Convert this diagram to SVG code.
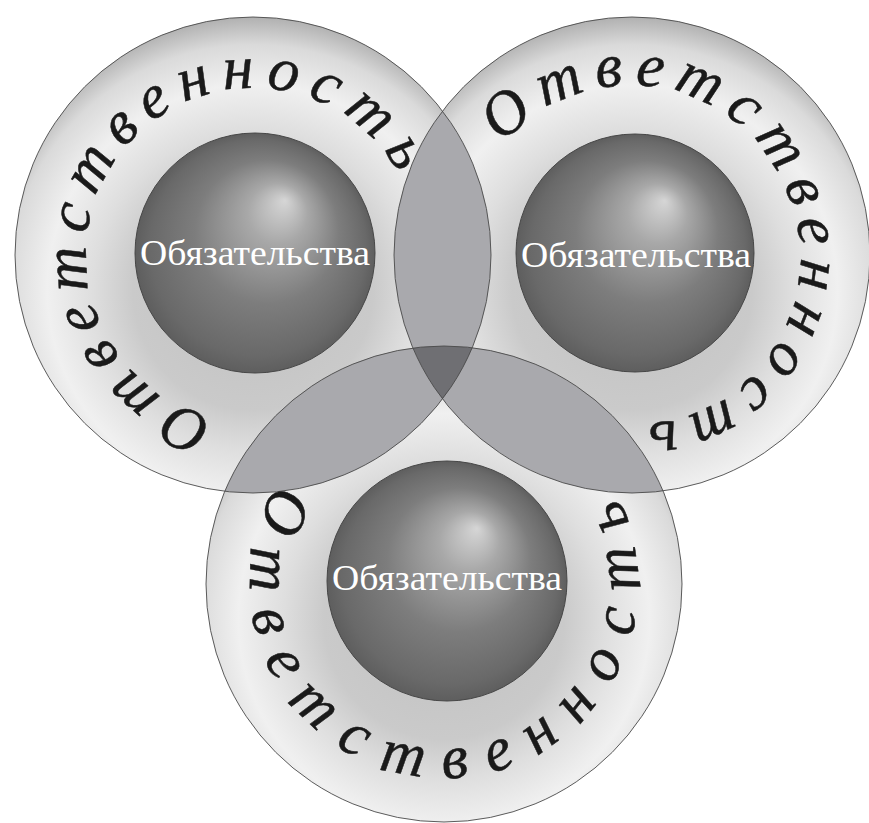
<svg xmlns="http://www.w3.org/2000/svg" xmlns:xlink="http://www.w3.org/1999/xlink" width="869" height="823" viewBox="0 0 869 823">
  <defs>
    <radialGradient id="ringGrad" cx="0.5" cy="0.574" r="0.6" fx="0.5" fy="0.574">
      <stop offset="0" stop-color="#c0c0c0"/>
      <stop offset="0.42" stop-color="#cacaca"/>
      <stop offset="0.56" stop-color="#dedede"/>
      <stop offset="0.72" stop-color="#f0f0f0"/>
      <stop offset="0.86" stop-color="#dadada"/>
      <stop offset="1" stop-color="#9e9e9e"/>
    </radialGradient>
    <radialGradient id="sphereGrad" cx="0.5" cy="0.5" r="0.5" fx="0.625" fy="0.28">
      <stop offset="0" stop-color="#d6d6d6"/>
      <stop offset="0.25" stop-color="#a8a8a8"/>
      <stop offset="0.6" stop-color="#7d7d7d"/>
      <stop offset="0.9" stop-color="#696969"/>
      <stop offset="1" stop-color="#5e5e5e"/>
    </radialGradient>
    <path id="arcA" d="M 382.8 360.1 A 167 167 0 1 1 123.2 149.9 A 167 167 0 1 1 382.8 360.1"/>
    <path id="arcB" d="M 481.3 326.9 A 167 167 0 1 1 782.7 183.1 A 167 167 0 1 1 481.3 326.9"/>
    <path id="arcC" d="M 440.6 390 A 194 194 0 1 0 447.4 778 A 194 194 0 1 0 440.6 390"/>
  </defs>
  <style>
    .ring { fill: url(#ringGrad); stroke: none; }
    .outline { fill: none; stroke: #4a4a4a; stroke-width: 0.9; }
    .lens { fill: #a9a9ad; stroke: none; }
    .triple { fill: #6f6f73; stroke: none; }
    .sphere { fill: url(#sphereGrad); stroke: #474747; stroke-width: 1; }
    .label { font-family: "Liberation Serif", "Times New Roman", serif; font-size: 36px; fill: #ffffff; text-anchor: middle; }
    .arcText { font-family: "Liberation Serif", "Times New Roman", serif; font-style: italic; font-size: 62px; fill: #1a1a1a; stroke: #1a1a1a; stroke-width: 0.5; text-anchor: middle; }
  </style>

  <g id="rings">
    <circle class="ring" cx="253" cy="255" r="238"/>
    <circle class="ring" cx="632" cy="255" r="238"/>
    <circle class="ring" cx="444" cy="584" r="238"/>
  </g>

  <g id="overlaps">
    <path class="lens" d="M 442.5 111 A 238 238 0 0 1 442.5 399 A 238 238 0 0 1 442.5 111 Z"/>
    <path class="lens" d="M 472.3 347.7 A 238 238 0 0 1 224.7 491.3 A 238 238 0 0 1 472.3 347.7 Z"/>
    <path class="lens" d="M 663 491 A 238 238 0 0 1 413 348 A 238 238 0 0 1 663 491 Z"/>
    <path class="triple" d="M 413 348 A 238 238 0 0 1 472.3 347.7 A 238 238 0 0 1 442.5 399 A 238 238 0 0 1 413 348 Z"/>
  </g>

  <g id="outlines">
    <circle class="outline" cx="253" cy="255" r="238"/>
    <circle class="outline" cx="632" cy="255" r="238"/>
    <circle class="outline" cx="444" cy="584" r="238"/>
  </g>

  <g id="node-top-left">
    <circle class="sphere" cx="255" cy="253" r="120"/>
    <text class="label" x="255" y="265" textLength="230" lengthAdjust="spacingAndGlyphs">Обязательства</text>
    <text class="arcText" letter-spacing="11"><textPath xlink:href="#arcA" href="#arcA" startOffset="50%">Ответственность</textPath></text>
  </g>

  <g id="node-top-right">
    <circle class="sphere" cx="635" cy="253" r="119"/>
    <text class="label" x="636" y="267" textLength="230" lengthAdjust="spacingAndGlyphs">Обязательства</text>
    <text class="arcText" letter-spacing="11"><textPath xlink:href="#arcB" href="#arcB" startOffset="50%">Ответственность</textPath></text>
  </g>

  <g id="node-bottom">
    <circle class="sphere" cx="447" cy="581" r="120"/>
    <text class="label" x="447" y="590" textLength="230" lengthAdjust="spacingAndGlyphs">Обязательства</text>
    <text class="arcText" letter-spacing="21"><textPath xlink:href="#arcC" href="#arcC" startOffset="50%">Ответственность</textPath></text>
  </g>
</svg>
